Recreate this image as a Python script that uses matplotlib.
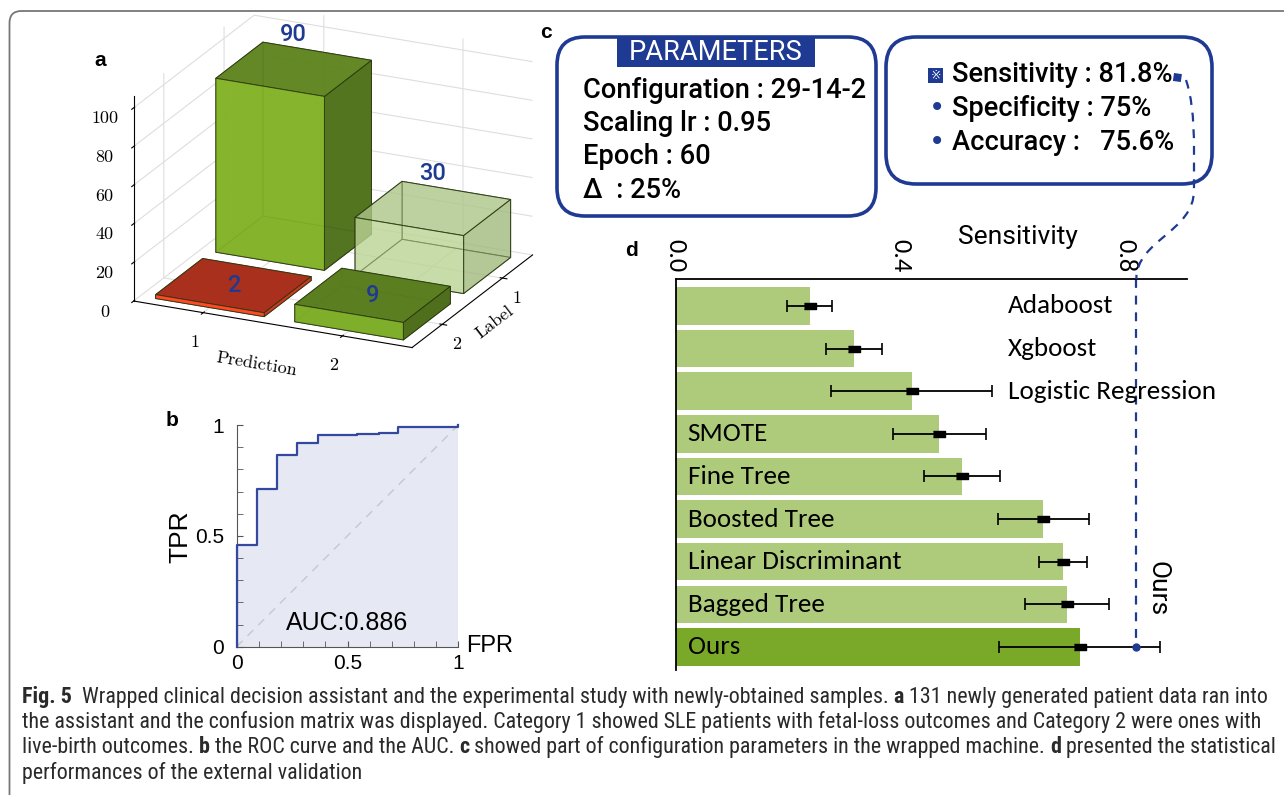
import numpy as np
import matplotlib
matplotlib.use("Agg")
import matplotlib.pyplot as plt
from matplotlib import font_manager as fm
from matplotlib.patches import FancyBboxPatch, Rectangle, PathPatch
from matplotlib.path import Path

W, H = 1284, 795

# ---- data ----
# a: confusion matrix, rows = Label 1/2, cols = Prediction 1/2
pred_labels = ["1", "2"]
true_labels = ["1", "2"]
counts = [[90, 30],
          [2, 9]]
z_ticks = [0, 20, 40, 60, 80, 100]

# b: ROC curve
roc_fpr = [0, 0, 0.09, 0.18, 0.27, 0.365, 0.545, 0.64, 0.73, 1.0]
roc_tpr = [0, 0.46, 0.71, 0.865, 0.92, 0.955, 0.96, 0.965, 0.99, 1.0]
auc = 0.886

# c: parameters / metrics
param_lines = ["Configuration : 29-14-2", "Scaling lr : 0.95", "Epoch : 60", "\u0394  : 25%"]
metric_lines = ["Sensitivity : 81.8%", "Specificity : 75%", "Accuracy :   75.6%"]

# d: sensitivity comparison
methods = ["Adaboost", "Xgboost", "Logistic Regression", "SMOTE", "Fine Tree",
           "Boosted Tree", "Linear Discriminant", "Bagged Tree", "Ours"]
sens_mean = [0.238, 0.317, 0.419, 0.467, 0.509, 0.652, 0.688, 0.694, 0.718]
sens_low = [0.197, 0.266, 0.275, 0.386, 0.441, 0.573, 0.645, 0.620, 0.574]
sens_high = [0.277, 0.366, 0.561, 0.551, 0.575, 0.733, 0.731, 0.769, 0.860]
ours_sens = 0.818
d_ticks = [0.0, 0.4, 0.8]

caption = [
    [("Fig. 5", True), ("  Wrapped clinical decision assistant and the experimental study with newly-obtained samples. ", False),
     ("a", True), (" 131 newly generated patient data ran into", False)],
    [("the assistant and the confusion matrix was displayed. Category 1 showed SLE patients with fetal-loss outcomes and Category 2 were ones with", False)],
    [("live-birth outcomes. ", False), ("b", True), (" the ROC curve and the AUC. ", False), ("c", True),
     (" showed part of configuration parameters in the wrapped machine. ", False), ("d", True),
     (" presented the statistical", False)],
    [("performances of the external validation", False)],
]

# ---- fonts ----
installed = {f.name for f in fm.fontManager.ttflist}
def pick(*names):
    for n in names:
        if n in installed:
            return n
    return "DejaVu Sans"
din = pick("Roboto", "Roboto Condensed")
calib = pick("Carlito", "Lato", "Open Sans")
arial = pick("Liberation Sans", "Arimo")
myriad = pick("Roboto Condensed", "Open Sans")
serif = "cmr10"
navy = "#1f3a93"

plt.rcParams["grid.color"] = "#dedede"
plt.rcParams["grid.linewidth"] = 0.8
plt.rcParams["axes.formatter.use_mathtext"] = True

fig = plt.figure(figsize=(W / 100, H / 100), dpi=100)
fig.patch.set_facecolor("white")
renderer = fig.canvas.get_renderer()

# ---- a: 3D confusion bars ----
ax3 = fig.add_axes([0.025, 0.507, 0.46, 0.53], projection="3d", proj_type="ortho")
ax3.view_init(elev=21, azim=-65)
ax3.set_box_aspect((1.4, 1.3, 1.0), zoom=1.09)
bar_faces = [  # (-z, +z, -y, +y, -x, +x)
    [["#6f9a25", "#5f8423", "#86b52b", "#7aa828", "#7aa828", "#4f6f1d"],
     ["#c2d9a0", "#a3bd7e", "#b8d291", "#c2d9a0", "#c2d9a0", "#93ab6e"]],
    [["#a8301c", "#a8301c", "#ff4a26", "#cc3a20", "#cc3a20", "#cc3a20"],
     ["#6f9a25", "#5a7e20", "#80b02a", "#6f9a25", "#6f9a25", "#4e6d1c"]],
]
bar_alpha = [[0.9, 0.55], [1.0, 0.95]]
bw = 0.78
for li, row in enumerate(counts):
    for pi, v in enumerate(row):
        yy = len(true_labels) - 1 - li
        cols = [matplotlib.colors.to_rgba(c, bar_alpha[li][pi]) for c in bar_faces[li][pi]]
        ax3.bar3d(pi - bw / 2, yy - bw / 2, 0, bw, bw, v, color=cols, shade=False,
                  edgecolor=(0.15, 0.2, 0.05, 0.8), linewidth=0.7)
        off = 18 if v > 20 else 0
        ax3.text(pi, yy, v + off, str(v), color=navy, fontsize=17, fontfamily=din,
                 fontweight="medium", ha="center", va="center", zorder=100)
ax3.set_xlim(-0.5, 1.5)
ax3.set_ylim(-0.5, 1.5)
ax3.set_zlim(0, 106)
ax3.set_xticks(range(len(pred_labels)))
ax3.set_xticklabels(pred_labels, fontfamily=serif, fontsize=13)
ax3.set_yticks([len(true_labels) - 1 - i for i in range(len(true_labels))])
ax3.set_yticklabels(true_labels, fontfamily=serif, fontsize=13)
ax3.set_zticks(z_ticks)
ax3.set_zticklabels([str(z) for z in z_ticks], fontfamily=serif, fontsize=13)
ax3.set_xlabel("Prediction", fontfamily=serif, fontsize=13, labelpad=0)
ax3.set_ylabel("Label", fontfamily=serif, fontsize=13, labelpad=-8)
ax3.tick_params(axis="y", pad=0)
ax3.zaxis.set_ticks_position("lower")
for a in (ax3.xaxis, ax3.yaxis, ax3.zaxis):
    a.set_pane_color((1, 1, 1, 0))
    a.line.set_color("black")
    a.line.set_linewidth(0.8)
ax3.patch.set_alpha(0)

# ---- b: ROC ----
axb = fig.add_axes([236.7 / W, 1 - 646.7 / H, 221.6 / W, 221.7 / H])
axb.fill_between(roc_fpr, roc_tpr, step="post", color="#e6e8f3", lw=0)
axb.step(roc_fpr, roc_tpr, where="post", color="#34489e", lw=1.6, clip_on=False, zorder=3)
axb.plot([0, 1], [0, 1], ls=(0, (6, 5)), color="#c8c8c8", lw=1)
axb.set_xlim(0, 1)
axb.set_ylim(0, 1)
for s in ("top", "right"):
    axb.spines[s].set_visible(False)
for s in ("left", "bottom"):
    axb.spines[s].set_color("#555555")
axb.set_xticks([0, 0.5, 1])
axb.set_yticks([0, 0.5, 1])
axb.set_xticklabels(["0", "0.5", "1"])
axb.set_yticklabels(["0", "0.5", "1"])
axb.set_xticks(np.arange(0, 1.01, 0.1), minor=True)
axb.set_yticks(np.arange(0, 1.01, 0.1), minor=True)
axb.tick_params(which="both", direction="in", length=4, color="#555555",
                labelsize=15, labelfontfamily=arial)
axb.tick_params(axis="y", pad=9)
axb.tick_params(axis="x", pad=5)
axb.text(0.5, 0.107, f"AUC:{auc}", transform=axb.transAxes, ha="center", va="center",
         fontsize=18, fontfamily=arial)

# ---- d: sensitivity bars ----
axd = fig.add_axes([676 / W, 1 - 670 / H, 511 / W, (670 - 279) / H])
yy = np.arange(len(methods))
bar_cols = ["#7aa828" if m == "Ours" else "#aeca7b" for m in methods]
axd.barh(yy, sens_mean, height=0.88, color=bar_cols)
err = [np.array(sens_mean) - np.array(sens_low), np.array(sens_high) - np.array(sens_mean)]
axd.errorbar(sens_mean, yy, xerr=err, fmt="none", ecolor="black", elinewidth=1.3, capsize=4, capthick=1.2)
axd.plot(sens_mean, yy, ls="none", color="black",
         marker=[(-1, -0.55), (1, -0.55), (1, 0.55), (-1, 0.55)], ms=8)
axd.set_xlim(0, 0.908)
axd.set_ylim(len(methods) - 1 + 0.54, -0.63)
for i, m in enumerate(methods):
    if sens_mean[i] < 0.45:
        axd.text(0.59, i, m, fontsize=19.5, fontfamily=calib, va="center", ha="left")
    else:
        axd.text(0.021, i, m, fontsize=19.5, fontfamily=calib, va="center", ha="left")
axd.plot([ours_sens, ours_sens], [-0.63, len(methods) - 1], ls=(0, (4, 3.5)), color=navy, lw=1.6,
         clip_on=False)
axd.plot([ours_sens], [len(methods) - 1], "o", color=navy, ms=5)
axd.text(ours_sens + 0.037, 6.62, "Ours", rotation=-90, fontsize=19, fontfamily=din,
         ha="center", va="center")
axd.xaxis.tick_top()
axd.set_xticks(d_ticks)
axd.set_xticklabels([f"{t:.1f}" for t in d_ticks], rotation=-90, fontsize=19, fontfamily=calib)
axd.tick_params(axis="x", length=0, pad=5)
axd.set_yticks([])
for s in ("right", "bottom"):
    axd.spines[s].set_visible(False)
for s in ("top", "left"):
    axd.spines[s].set_linewidth(1.3)
axd.text(0.67, 1.107, "Sensitivity", transform=axd.transAxes, ha="center", va="center",
         fontsize=19, fontfamily=din)

# ---- overlay (pixel coordinates) ----
ov = fig.add_axes([0, 0, 1, 1], zorder=10)
ov.set_xlim(0, W)
ov.set_ylim(H, 0)
ov.axis("off")

ov.add_patch(FancyBboxPatch((9.5, 11), 1400, 830, boxstyle="round,pad=0,rounding_size=12",
                            fc="none", ec="#777777", lw=1.3))
for lab, x, y in [("a", 100, 60), ("b", 172, 420), ("c", 546, 32), ("d", 632, 250)]:
    ov.text(x, y, lab, fontsize=15, fontweight="bold", fontfamily=arial, ha="center", va="center")
ov.text(180, 537, "TPR", rotation=90, fontsize=19, fontfamily=arial, ha="center", va="center")
ov.text(490, 646, "FPR", fontsize=17, fontfamily=arial, ha="center", va="center")

# c boxes
ov.add_patch(FancyBboxPatch((557, 37), 319, 179, boxstyle="round,pad=0,rounding_size=28",
                            fc="white", ec=navy, lw=2.6))
ov.add_patch(FancyBboxPatch((886, 37), 326, 147, boxstyle="round,pad=0,rounding_size=30",
                            fc="white", ec=navy, lw=2.6))
ov.add_patch(Rectangle((617, 38), 198, 29, fc=navy, ec="none"))

t = ov.text(0, 0, param_lines[0], fontsize=10, fontfamily=din, fontweight="medium")
c_size = 10 * 283 / t.get_window_extent(renderer).width
t.remove()
ov.text(716, 53, "PARAMETERS", color="white", fontsize=c_size, fontfamily=din,
        ha="center", va="center")
for i, s in enumerate(param_lines):
    ov.text(583, 90 + i * 33.4, s, fontsize=c_size, fontfamily=din, ha="left", va="center",
            fontweight="medium")
for i, s in enumerate(metric_lines):
    ov.text(952, 75 + i * 33.5, s, fontsize=c_size, fontfamily=din, ha="left", va="center",
            fontweight="medium")
ov.add_patch(Rectangle((928, 68), 15, 15, fc=navy, ec="none"))
ov.text(935.5, 75.5, "\u203b", color="white", fontsize=9, ha="center", va="center")
for i in (1, 2):
    ov.text(937, 75 + i * 33.5, "\u2022", color=navy, fontsize=20, ha="center", va="center")
ov.add_patch(Rectangle((1174, 73), 8, 8, fc=navy, ec="none", angle=8))

# connector from the metric box down to the Ours line in d
xe, ye = axd.transData.transform((ours_sens, -0.63))
ye = H - ye
verts = [(1186, 80), (1191, 95), (1194, 115), (1194, 150), (1194, 190),
         (1194, 232), (xe, 240), (xe, ye)]
codes = [Path.MOVETO, Path.CURVE4, Path.CURVE4, Path.CURVE4, Path.LINETO,
         Path.CURVE4, Path.CURVE4, Path.CURVE4]
ov.add_patch(PathPatch(Path(verts, codes), fc="none", ec=navy, lw=1.6, ls=(0, (4, 3.5))))

# caption
t = ov.text(0, 0, "".join(s for s, _ in caption[0]), fontsize=10, fontfamily=myriad)
cap_size = 10 * 1240 / t.get_window_extent(renderer).width
t.remove()
for li, runs in enumerate(caption):
    x = 22
    for s, bold in runs:
        tt = ov.text(x, 697 + li * 25.2, s, fontsize=cap_size, fontfamily=myriad,
                     fontweight="bold" if bold else "normal", ha="left", va="center", color="#2a2a2a")
        x += tt.get_window_extent(renderer).width

fig.savefig("out.png", dpi=100)
